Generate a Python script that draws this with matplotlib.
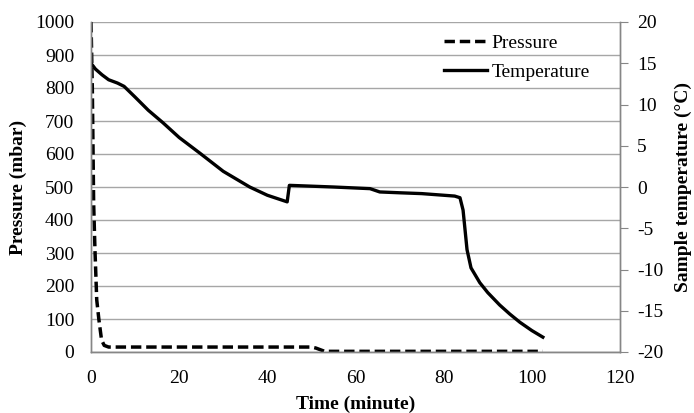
import matplotlib
matplotlib.use("Agg")
import matplotlib.pyplot as plt

plt.rcParams['font.family'] = ['Liberation Serif', 'DejaVu Serif']
plt.rcParams['axes.unicode_minus'] = False

# Pressure (mbar) vs time (minute)
p_time = [0, 0.3, 0.6, 0.9, 1.3, 1.8, 2.4, 3.0, 4.0, 5.0, 50.0, 51.0, 53.0, 102.5]
p_vals = [1000, 800, 450, 309, 158, 97, 36, 20, 15, 15, 15, 12, 2, 2]

# Sample temperature (°C) vs time (minute)
t_time = [0, 1.0, 2.5, 4.0, 6.0, 7.5, 10, 13, 16.3, 20, 24.7, 30, 36, 40, 44.5,
          45.0, 50, 55, 63.3, 65.5, 70, 75, 80, 82.5, 83.7, 84.4, 85.3, 86.2,
          88.2, 90, 92.7, 95, 97.3, 100, 102.5]
t_vals = [15.0, 14.3, 13.6, 13.0, 12.6, 12.2, 10.9, 9.3, 7.8, 6.0, 4.1, 1.9, 0.0, -1.0, -1.8,
          0.2, 0.1, 0.0, -0.2, -0.6, -0.7, -0.8, -1.0, -1.1, -1.3, -2.8, -7.6, -9.8,
          -11.6, -12.8, -14.3, -15.4, -16.4, -17.4, -18.2]

x_ticks = [0, 20, 40, 60, 80, 100, 120]
p_ticks = list(range(0, 1001, 100))
t_ticks = list(range(-20, 21, 5))

W, H = 694, 413
fig = plt.figure(figsize=(W / 100, H / 100), dpi=100)
ax = fig.add_axes([91 / W, 1 - 352 / H, (620 - 91) / W, (352 - 22) / H])
ax2 = ax.twinx()

gray = '#868686'
lp, = ax.plot(p_time, p_vals, color='black', lw=2.5, linestyle=(0, (3.0, 1.4)), label='Pressure')
lt, = ax2.plot(t_time, t_vals, color='black', lw=2.4, label='Temperature')

ax.set_xlim(0, 120)
ax.set_ylim(0, 1000)
ax2.set_ylim(-20, 20)
ax.set_xticks(x_ticks)
ax.set_yticks(p_ticks)
ax2.set_yticks(t_ticks)

ax.yaxis.grid(True, color='#a6a6a6', lw=1.0)
ax.set_axisbelow(True)

for a in (ax, ax2):
    a.spines['top'].set_visible(False)
    for s in ('left', 'right', 'bottom'):
        a.spines[s].set_color(gray)
        a.spines[s].set_linewidth(1.0)

fs = 14
ax.tick_params(axis='x', length=0, labelsize=fs, pad=13)
ax.tick_params(axis='y', length=0, labelsize=fs, pad=12)
ax2.tick_params(axis='y', direction='out', length=5.5, color=gray, labelsize=fs, pad=7)

ax.set_xlabel('Time (minute)', fontsize=fs, fontweight='bold', labelpad=6)
ax.set_ylabel('Pressure (mbar)', fontsize=fs, fontweight='bold', labelpad=6)
ax2.set_ylabel('Sample temperature (°C)', fontsize=fs, fontweight='bold', labelpad=8)

leg = ax.legend(handles=[lp, lt], loc='upper right',
                bbox_to_anchor=(590 / W, 1 - 34 / H), bbox_transform=fig.transFigure,
                frameon=False, fontsize=fs, handlelength=2.2, handletextpad=0.25,
                labelspacing=0.6, borderpad=0, borderaxespad=0)

fig.savefig('out.png', dpi=100)
